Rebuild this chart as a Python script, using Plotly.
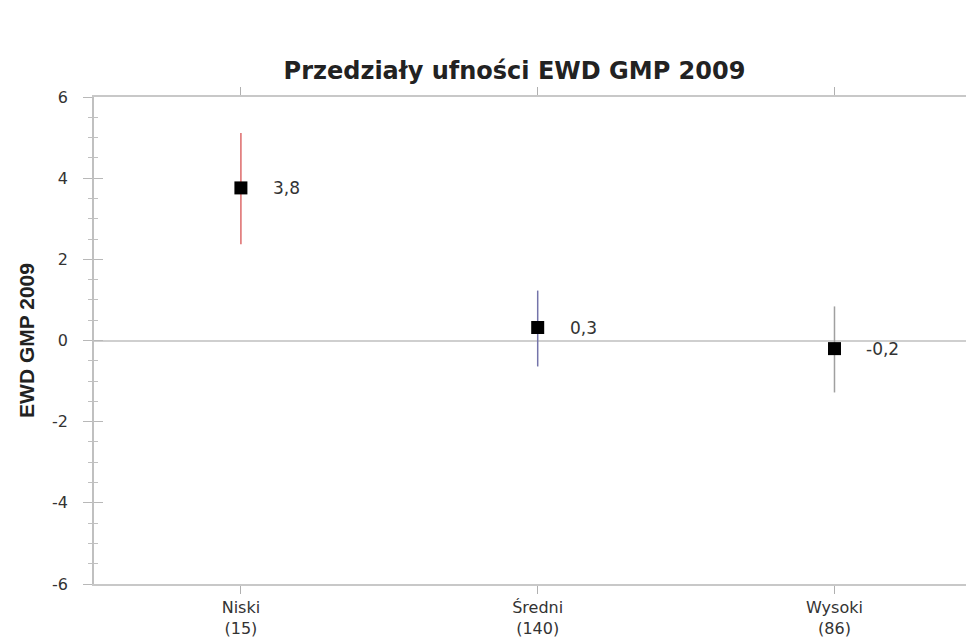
import plotly.graph_objects as go

categories = ["Niski", "Średni", "Wysoki"]
counts = [15, 140, 86]
means = [3.76, 0.32, -0.20]
ci_low = [2.37, -0.64, -1.28]
ci_high = [5.11, 1.23, 0.84]
colors = ["#dd6a6a", "#7474aa", "#a0a0a0"]
y_ticks = [6, 4, 2, 0, -2, -4, -6]
y_tick_text = ["6", "4", "2", "0", "-2", "-4", "-6"]

FONT = "DejaVu Sans, Verdana, sans-serif"
fig = go.Figure()
xs = list(range(len(categories)))
for i in xs:
    fig.add_trace(go.Scatter(
        x=[i], y=[means[i]], mode="markers",
        marker=dict(symbol="square", size=13, color="black"),
        error_y=dict(type="data", symmetric=False,
                     array=[ci_high[i] - means[i]],
                     arrayminus=[means[i] - ci_low[i]],
                     color=colors[i], thickness=1.5, width=0),
        showlegend=False, hoverinfo="skip"))

# dummy trace on second y-axis for inside ticks
fig.add_trace(go.Scatter(x=[None], y=[None], yaxis="y2", showlegend=False))

for i in xs:
    label = f"{means[i]:.1f}".replace(".", ",")
    fig.add_annotation(x=i, y=means[i], text=label,
                       showarrow=False, xanchor="left", xshift=30,
                       font=dict(family=FONT, size=17, color="#333333"))

fig.update_layout(
    width=974, height=637,
    margin=dict(l=86, r=0, t=89, b=61, autoexpand=False),
    paper_bgcolor="white", plot_bgcolor="white",
    title=dict(text="<b>Przedziały ufności EWD GMP 2009</b>", x=0.52, xanchor="center",
               y=0.902, yanchor="middle",
               font=dict(family=FONT, size=24, color="#222222")),
    xaxis=dict(range=[-0.495, 2.497], tickvals=xs,
               ticktext=[f"{c}<br>({n})" for c, n in zip(categories, counts)],
               showgrid=False, zeroline=False, showline=True, linecolor="#c8c8c8",
               linewidth=1.5, mirror="ticks", ticks="outside", ticklen=8,
               tickcolor="#b0b0b0", automargin=False,
               tickfont=dict(family=FONT, size=16, color="#333333")),
    yaxis=dict(range=[-6, 6], tickvals=y_ticks, ticktext=y_tick_text, showgrid=False,
               zeroline=True, zerolinecolor="#cfcfcf", zerolinewidth=2,
               showline=True, linecolor="#c0c0c0", linewidth=1.5,
               ticks="outside", ticklen=9, tickcolor="#b8b8b8",
               minor=dict(ticks="outside", ticklen=4, dtick=0.5, tickcolor="#c0c0c0"),
               tickfont=dict(family=FONT, size=16, color="#333333"),
               ticklabelstandoff=12, automargin=False,
               title=dict(text="<b>EWD GMP 2009</b>", standoff=12,
                          font=dict(family="Liberation Sans, Arial, sans-serif",
                                    size=21, color="#222222"))),
    yaxis2=dict(range=[-6, 6], overlaying="y", side="left", tickvals=y_ticks,
                showticklabels=False, showgrid=False, zeroline=False,
                ticks="inside", ticklen=9, tickcolor="#b8b8b8",
                minor=dict(ticks="inside", ticklen=4, dtick=0.5, tickcolor="#c0c0c0")),
)

fig.write_html("out.html")
